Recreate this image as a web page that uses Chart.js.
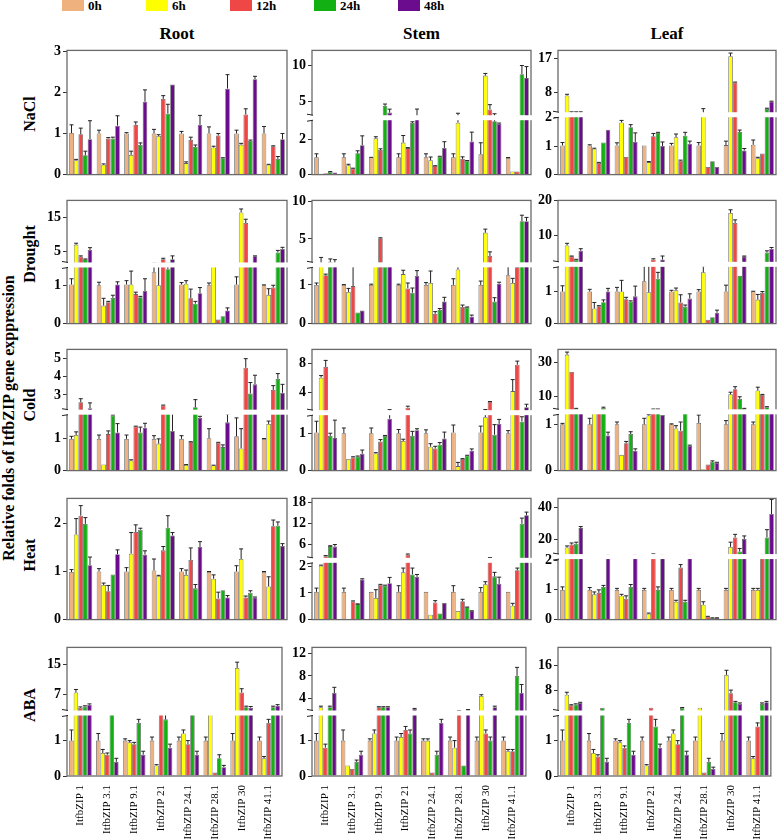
<!DOCTYPE html>
<html>
<head>
<meta charset="utf-8">
<script src="https://cdn.jsdelivr.net/npm/chart.js@4.4.1/dist/chart.umd.min.js"></script>
<style>
  body { margin: 0; background: #fff; }
  #wrap { position: relative; width: 778px; height: 840px; overflow: hidden;
          font-family: "Liberation Serif", "Times New Roman", serif; font-weight: bold; color: #000; }
  #wrap canvas { position: absolute; }
  .txt { position: absolute; white-space: nowrap; }
  .rot { position: absolute; white-space: nowrap; transform: translate(-50%, -50%) rotate(-90deg); }
</style>
</head>
<body>
<div id="wrap"></div>
<script>
'use strict';

// CATEGORIES AND SERIES
const genes = ['ItfbZIP 1', 'ItfbZIP 3.1', 'ItfbZIP 9.1', 'ItfbZIP 21', 'ItfbZIP 24.1', 'ItfbZIP 28.1', 'ItfbZIP 30', 'ItfbZIP 41.1'];
const times = ['0h', '6h', '12h', '24h', '48h'];
const timeColors = ['#efb27e', '#ffff00', '#ef4646', '#12b012', '#6b0b8d'];
const tissues = ['Root', 'Stem', 'Leaf'];
const stresses = ['NaCl', 'Drought', 'Cold', 'Heat', 'ABA'];

// VALUES: one row per gene, [0h, 6h, 12h, 24h, 48h]
const naclRoot = [[1.01, 0.35, 0.98, 0.47, 0.86], [1.0, 0.24, 0.88, 0.88, 1.19], [1.0, 0.48, 1.21, 0.72, 1.77], [1.0, 0.94, 1.84, 1.48, 2.19],
  [1.0, 0.28, 0.84, 0.67, 1.21], [1.0, 0.66, 0.95, 0.4, 2.09], [1.0, 0.73, 1.46, 0.82, 2.32], [1.0, 0.24, 0.69, 0.38, 0.86]];
const naclRootErr = [[0.2, 0.02, 0.15, 0.1, 0.45], [0.08, 0.02, 0.02, 0.03, 0.24], [0.02, 0.09, 0.07, 0.05, 0.29], [0.1, 0.03, 0.08, 0.23, 0],
  [0.05, 0.03, 0.07, 0.05, 0.23], [0.16, 0.03, 0.05, 0.01, 0.34], [0.08, 0.03, 0.14, 0.02, 0.07], [0.17, 0.01, 0.01, 0.06, 0.14]];

const naclStem = [[0.97, 0.03, 0.07, 0.16, 0.12], [0.97, 0.53, 0.34, 1.2, 1.65], [0.96, 2.04, 1.38, 4.39, 3.46], [0.97, 1.8, 1.49, 2.9, 3.11],
  [0.97, 0.81, 0.48, 1.01, 1.5], [0.97, 2.92, 0.88, 0.78, 1.86], [1.15, 8.6, 3.9, 3.0, 2.85], [0.94, 0.18, 0.18, 8.8, 8.25]];
const naclStemErr = [[0.2, 0, 0, 0.01, 0], [0.2, 0.05, 0.02, 0.14, 0.53], [0.01, 0.09, 0.07, 0.26, 0.48], [0.2, 0.4, 0.03, 0.07, 0.84],
  [0.2, 0.18, 0.02, 0.02, 0.35], [0.2, 0.45, 0.12, 0.01, 0.53], [0.64, 0.3, 0.66, 0.3, 0.05], [0.02, 0, 0, 1.2, 1.6]];

const naclLeaf = [[1.03, 7.2, 2.4, 2.4, 2.4], [1.03, 0.91, 0.41, 1.13, 1.58], [1.03, 1.84, 0.62, 1.67, 1.15], [1.03, 0.44, 1.35, 1.47, 1.01],
  [1.03, 1.32, 0.49, 1.37, 1.09], [1.03, 2.3, 0.27, 0.47, 0.27], [1.04, 17.5, 10.6, 1.5, 0.85], [1.05, 0.58, 0.74, 3.66, 5.6]];
const naclLeafErr = [[0.1, 0.3, 0.5, 0.5, 0.5], [0.02, 0.02, 0.02, 0, 0], [0.09, 0.07, 0, 0.09, 0.32], [0, 0.02, 0.1, 0.02, 0.14],
  [0.07, 0.11, 0.02, 0.12, 0.09], [0.1, 1.45, 0, 0, 0], [0.14, 0.8, 0.1, 0.07, 0.07], [0.17, 0.03, 0, 0.2, 0.1]];

const droughtRoot = [[1.02, 7.1, 3.6, 2.8, 5.5], [1.0, 0.47, 0.56, 0.67, 1.02], [1.02, 1.02, 0.77, 0.69, 0.85], [1.34, 1.0, 2.8, 1.42, 2.8],
  [1.02, 1.04, 0.66, 0.52, 0.79], [1.0, 1.5, 0.11, 0.19, 0.34], [1.02, 16.5, 13.4, 1.5, 3.7], [1.0, 0.75, 0.94, 4.8, 5.9]];
const droughtRootErr = [[0.15, 0.4, 0.2, 0.1, 0.7], [0.08, 0.19, 0.02, 0.07, 0.07], [0.1, 0.35, 0.05, 0.02, 0.32], [0.3, 0.6, 0.3, 0.2, 1.0],
  [0.05, 0.08, 0.24, 0.06, 0.15], [0.06, 0, 0, 0, 0.07], [0.2, 1.0, 1.1, 0, 0.1], [0.01, 0.16, 0.06, 0.6, 0.4]];

const droughtStem = [[1.0, 1.6, 1.25, 1.9, 1.6], [1.0, 0.82, 0.97, 0.29, 0.34], [1.0, 1.6, 5.1, 1.48, 1.6], [1.0, 1.28, 0.91, 0.8, 1.23],
  [1.0, 1.05, 0.25, 0.35, 0.57], [1.0, 1.4, 0.43, 0.42, 0.18], [1.0, 5.85, 2.7, 0.57, 1.03], [1.25, 1.05, 1.46, 7.4, 7.4]];
const droughtStemErr = [[0.05, 0.9, 0.03, 0.4, 0.6], [0.01, 0.09, 0.53, 0, 0], [0.02, 0, 0.05, 0.02, 0], [0.02, 0.1, 0.14, 0.12, 0.14],
  [0.06, 0.31, 0.06, 0.04, 0.11], [0.16, 0.1, 0.05, 0.01, 0.04], [0.1, 0.47, 0.55, 0.1, 0.04], [0.41, 0.12, 0.01, 0.8, 0.5]];

const droughtLeaf = [[1.0, 7.05, 3.9, 2.95, 5.5], [1.0, 0.47, 0.54, 0.67, 1.0], [1.0, 1.0, 0.76, 0.69, 0.85], [1.32, 0.98, 3.0, 1.4, 3.0],
  [1.0, 1.04, 0.66, 0.53, 0.78], [1.0, 1.6, 0.12, 0.2, 0.34], [1.0, 16.4, 13.5, 1.49, 3.9], [1.0, 0.75, 0.96, 5.0, 6.1]];
const droughtLeafErr = [[0.18, 0.6, 0.1, 0.1, 0.6], [0.07, 0.19, 0.02, 0.07, 0.1], [0.13, 0.35, 0.06, 0.02, 0.32], [0.6, 0.98, 0.2, 0.2, 1.0],
  [0.04, 0.07, 0.24, 0.05, 0.15], [0.06, 0.2, 0, 0, 0.08], [0.2, 0.9, 0.9, 0, 0.1], [0.01, 0.16, 0.04, 0.5, 0.35]];

const coldRoot = [[1.0, 1.12, 2.6, 2.1, 2.27], [1.0, 0.19, 1.15, 1.74, 1.2], [1.0, 0.32, 1.39, 1.2, 1.35], [1.0, 0.85, 2.42, 2.1, 1.25],
  [1.0, 0.18, 0.9, 2.32, 1.66], [1.02, 0.16, 0.88, 0.74, 1.52], [1.08, 0.7, 4.49, 3.08, 3.58], [1.0, 1.47, 3.27, 3.88, 3.12]];
const coldRootErr = [[0.08, 0.1, 0.19, 0, 0.29], [0.12, 0, 0.1, 0.02, 0.28], [0.12, 0.02, 0.01, 0.17, 0.14], [0.1, 0.15, 0.02, 0, 0.55],
  [0.1, 0.01, 0.01, 0.42, 0.05], [0.3, 0.01, 0.01, 0.07, 0.26], [0.58, 0.62, 0.5, 0.6, 0.5], [0.01, 0.09, 0.24, 0.29, 0.46]];

const coldStem = [[1.02, 6.06, 7.57, 0.93, 0.87], [1.0, 0.31, 0.35, 0.38, 0.45], [1.0, 0.46, 0.78, 0.93, 1.39], [1.0, 0.79, 1.9, 0.93, 1.08],
  [1.0, 0.64, 0.59, 0.69, 0.86], [1.02, 0.12, 0.31, 0.4, 0.53], [1.02, 1.43, 2.7, 0.96, 1.25], [1.0, 4.2, 7.87, 1.31, 1.97]];
const coldStemErr = [[0.3, 0.3, 0.9, 0.07, 0.48], [0.14, 0, 0.02, 0.01, 0.1], [0.14, 0.02, 0.05, 0.01, 0.23], [0.1, 0.05, 0.2, 0.12, 0.04],
  [0.09, 0.08, 0.06, 0.06, 0.17], [0.2, 0.1, 0.01, 0.01, 0.05], [0.17, 0.2, 0.05, 0.27, 0.12], [0.07, 1.6, 0.5, 0.13, 0.4]];

const coldLeaf = [[1.0, 34.9, 24.6, 2.7, 2.1], [1.0, 1.24, 1.24, 3.1, 0.76], [1.0, 0.34, 0.59, 0.79, 0.43], [1.0, 1.19, 2.3, 2.3, 1.2],
  [1.0, 0.91, 0.86, 1.5, 0.53], [1.03, 0.03, 0.13, 0.19, 0.17], [1.0, 11.3, 14.3, 8.5, 2.7], [1.0, 13.5, 10.9, 3.6, 2.1]];
const coldLeafErr = [[0.02, 1.5, 0, 0.2, 0], [0.13, 0, 0, 0.5, 0.07], [0.05, 0, 0.04, 0.05, 0.04], [0.13, 0.02, 0.2, 0.2, 0],
  [0.01, 0.06, 0.19, 0, 0.02], [0.17, 0, 0, 0.02, 0.01], [0.08, 1.2, 1.5, 1.3, 0.2], [0.05, 2.0, 0.3, 0.3, 0]];

const heatRoot = [[0.99, 1.77, 2.16, 1.99, 1.13], [1.0, 0.72, 0.59, 0.94, 1.36], [1.0, 1.37, 1.82, 1.87, 1.35], [1.02, 0.91, 1.44, 1.91, 1.75],
  [1.0, 0.93, 1.24, 0.65, 1.51], [0.99, 0.85, 0.44, 0.61, 0.46], [1.0, 1.26, 0.46, 0.56, 0.46], [0.99, 0.69, 1.94, 1.95, 1.53]];
const heatRootErr = [[0.05, 0.33, 0.21, 0.13, 0.17], [0.06, 0.04, 0.12, 0, 0.09], [0.08, 0.44, 0.15, 0.03, 0.08], [0.24, 0.01, 0.08, 0.25, 0.06],
  [0.06, 0.1, 0.25, 0.08, 0.11], [0.01, 0.08, 0.13, 0, 0.04], [0.12, 0.21, 0.03, 0.04, 0.01], [0.01, 0.2, 0.13, 0.08, 0.05]];

const heatStem = [[1.04, 2.02, 2.75, 5.65, 5.5], [1.04, 0.01, 0.68, 0.58, 1.5], [1.04, 0.81, 1.31, 1.28, 1.36], [1.04, 1.77, 3.2, 1.69, 1.6],
  [1.04, 0.18, 0.64, 0.23, 0.62], [1.04, 0.32, 0.69, 0.46, 0.32], [1.04, 1.32, 2.3, 1.62, 1.34], [1.04, 0.52, 1.85, 12.0, 14.4]];
const heatStemErr = [[0.14, 0.02, 0.2, 0.1, 0.6], [0.14, 0, 0.02, 0.01, 0.03], [0, 0.31, 0.01, 0.01, 0.22], [0.23, 0.16, 0.2, 0.24, 0.09],
  [0, 0, 0.07, 0, 0], [0.23, 0, 0.07, 0.01, 0.01], [0.16, 0.1, 0.1, 0.15, 0.25], [0, 0.09, 0.08, 1.6, 0.9]];

const heatLeaf = [[1.0, 14.6, 16.5, 17, 27], [1.0, 0.85, 0.9, 1.1, 9.5], [1.0, 0.8, 0.7, 1.1, 9.5], [1.0, 0.2, 9.5, 1.0, 9.5],
  [1.0, 0.6, 1.75, 0.6, 9.5], [1.0, 0.5, 0.1, 0.05, 0.05], [1.0, 15, 21, 12, 20], [1.0, 1.0, 9.5, 21, 36]];
const heatLeafErr = [[0.1, 1, 1, 1, 1], [0.08, 0.08, 0.1, 0.05, 0.5], [0.05, 0.05, 0.1, 0.08, 0.5], [0.05, 0.02, 1.0, 0.1, 0.5],
  [0.05, 0.05, 0.1, 0.05, 0.5], [0.05, 0.1, 0.01, 0.01, 0.01], [0.05, 3, 2, 2, 2], [0.05, 0.05, 0.5, 5, 10]];

const abaRoot = [[1.0, 7.5, 3.5, 3.8, 4.3], [1.0, 0.65, 0.6, 2.2, 0.4], [1.0, 0.95, 0.9, 1.5, 0.6], [1.0, 0.3, 2.2, 1.6, 0.8],
  [1.0, 1.2, 0.9, 2.2, 0.6], [1.0, 2.2, 0.1, 0.5, 0.25], [1.0, 14, 7.5, 3.6, 3.5], [1.0, 0.5, 1.5, 3.6, 4]];
const abaRootErr = [[0.3, 0.8, 0.2, 0.2, 0.2], [0.2, 0.1, 0.05, 0, 0.1], [0.05, 0.05, 0.05, 0.1, 0.1], [0.1, 0.02, 0, 0.2, 0.1],
  [0.1, 0.1, 0.1, 0.1, 0.1], [0.1, 0, 0, 0.1, 0.05], [0.2, 1.5, 1, 0.3, 0.3], [0.1, 0.05, 0.1, 0.3, 0.3]];

const abaStem = [[1.0, 2.5, 0.8, 2.5, 5], [1.0, 0.3, 0.2, 0.4, 0.6], [1.0, 1.2, 2.5, 2.5, 2.5], [1.0, 1.1, 1.3, 1.2, 2.2],
  [1.0, 1.0, 0.1, 0.6, 1.5], [1.0, 0.8, 1.8, 0.3, 2.0], [1.0, 4.5, 1.2, 1.0, 2.5], [1.0, 0.7, 0.7, 8, 5]];
const abaStemErr = [[0.2, 0.2, 0.1, 0.2, 1], [0.3, 0, 0, 0.05, 0.1], [0.05, 0.1, 0.1, 0.1, 0.1], [0.1, 0.1, 0.1, 0.1, 0.1],
  [0.05, 0.05, 0, 0.1, 0.1], [0.1, 0.2, 0.1, 0, 0.1], [0.1, 0.2, 0.1, 0.1, 0.2], [0.1, 0.05, 0.05, 1.5, 1.5]];

const abaLeaf = [[1.0, 6.5, 3.0, 3.3, 3.8], [1.0, 0.65, 0.55, 2.2, 0.4], [1.0, 0.95, 0.8, 1.5, 0.6], [1.0, 0.3, 2.2, 1.4, 0.8],
  [1.0, 1.2, 0.9, 2.2, 0.6], [1.0, 2.2, 0.1, 0.4, 0.2], [1.0, 13, 7, 4.0, 3.5], [1.0, 0.5, 1.4, 3.5, 4.0]];
const abaLeafErr = [[0.3, 0.8, 0.2, 0.2, 0.2], [0.2, 0.1, 0.05, 0, 0.1], [0.05, 0.05, 0.05, 0.1, 0.1], [0.1, 0.02, 0, 0.2, 0.1],
  [0.1, 0.1, 0.1, 0.1, 0.1], [0.1, 0, 0, 0.1, 0.05], [0.2, 1.5, 1, 0.3, 0.3], [0.1, 0.05, 0.1, 0.3, 0.3]];

// TICK LABELS per panel
const naclRootTicks = [0, 1, 2, 3];
const naclStemTicks = [0, 2, 5, 10];
const naclLeafTicks = [0, 1, 2, 8, 17];
const droughtRootTicks = [0, 1, 5, 15];
const droughtStemTicks = [0, 1, 5, 10];
const droughtLeafTicks = [0, 1, 10, 20];
const coldRootTicks = [0, 1, 3, 4, 5];
const coldStemTicks = [0, 1, 4, 8];
const coldLeafTicks = [0, 1, 10, 30];
const heatRootTicks = [0, 1, 2];
const heatStemTicks = [0, 1, 2, 6, 12, 18];
const heatLeafTicks = [0, 1, 2, 20, 40];
const abaRootTicks = [0, 1, 7, 15];
const abaStemTicks = [0, 1, 4, 8, 12];
const abaLeafTicks = [0, 1, 8, 16];

// LAYOUT
const colLeft = [67, 312, 558];
const colWidth = [220, 219, 218];
const rowTop = [48, 198, 347, 496, 645];
const rowBottom = [182, 331, 478, 627, 776];
const AXIS_W = 30;
const PAD_T = 8;
const PAD_R = 4;
const PAD_B = 3;
const XLAB_H = 64;
const serif = '"Liberation Serif", "Times New Roman", serif';

// broken axes: lower part 0..low fills `frac` of the height, upper part high..max the rest
const panels = [
  { row: 0, col: 0, vals: naclRoot, errs: naclRootErr, ticks: naclRootTicks, axis: { max: 3.02 } },
  { row: 0, col: 1, vals: naclStem, errs: naclStemErr, ticks: naclStemTicks, axis: { max: 12.1, low: 3.2, high: 2.75, frac: 0.458 } },
  { row: 0, col: 2, vals: naclLeaf, errs: naclLeafErr, ticks: naclLeafTicks, axis: { max: 19, low: 2.11, high: 2.15, frac: 0.482 } },
  { row: 1, col: 0, vals: droughtRoot, errs: droughtRootErr, ticks: droughtRootTicks, axis: { max: 20, low: 1.53, high: 1.15, frac: 0.476 } },
  { row: 1, col: 1, vals: droughtStem, errs: droughtStemErr, ticks: droughtStemTicks, axis: { max: 10.2, low: 1.52, high: 1.5, frac: 0.477 } },
  { row: 1, col: 2, vals: droughtLeaf, errs: droughtLeafErr, ticks: droughtLeafTicks, axis: { max: 20, low: 1.85, high: 1.6, frac: 0.481 } },
  { row: 2, col: 0, vals: coldRoot, errs: coldRootErr, ticks: coldRootTicks, axis: { max: 5.5, low: 1.84, high: 2.05, frac: 0.482 } },
  { row: 2, col: 1, vals: coldStem, errs: coldStemErr, ticks: coldStemTicks, axis: { max: 10, low: 1.55, high: 1.2, frac: 0.478 } },
  { row: 2, col: 2, vals: coldLeaf, errs: coldLeafErr, ticks: coldLeafTicks, axis: { max: 38, low: 1.27, high: 0.84, frac: 0.485 } },
  { row: 3, col: 0, vals: heatRoot, errs: heatRootErr, ticks: heatRootTicks, axis: { max: 2.52 } },
  { row: 3, col: 1, vals: heatStem, errs: heatStemErr, ticks: heatStemTicks, axis: { max: 19.2, low: 2.22, high: 1.6, frac: 0.489 } },
  { row: 3, col: 2, vals: heatLeaf, errs: heatLeafErr, ticks: heatLeafTicks, axis: { max: 46, low: 2.12, high: 8.8, frac: 0.52 } },
  { row: 4, col: 0, vals: abaRoot, errs: abaRootErr, ticks: abaRootTicks, axis: { max: 19.4, low: 1.78, high: 2.1, frac: 0.49 } },
  { row: 4, col: 1, vals: abaStem, errs: abaStemErr, ticks: abaStemTicks, axis: { max: 13, low: 1.78, high: 1.5, frac: 0.49 } },
  { row: 4, col: 2, vals: abaLeaf, errs: abaLeafErr, ticks: abaLeafTicks, axis: { max: 22, low: 1.78, high: 0.5, frac: 0.49 } }
];

//  BROKEN LINEAR SCALE
class BrokenScale extends Chart.LinearScale {
  buildTicks() {
    return this.options.tickList.map(v => ({ value: v }));
  }
  breakPixel() {
    const b = this.options.brk;
    return this.bottom - b.frac * (this.bottom - this.top);
  }
  getPixelForValue(v) {
    const b = this.options.brk;
    if (!b.low) {
      return this.bottom - (v - this.min) / (this.max - this.min) * (this.bottom - this.top);
    }
    const yb = this.breakPixel();
    if (v <= b.low) return this.bottom - v / b.low * (this.bottom - yb);
    if (v >= b.high) return yb - (v - b.high) / (this.max - b.high) * (yb - this.top);
    return yb;
  }
  getValueForPixel(p) {
    const b = this.options.brk;
    if (!b.low) return this.min + (this.bottom - p) / (this.bottom - this.top) * (this.max - this.min);
    const yb = this.breakPixel();
    if (p >= yb) return (this.bottom - p) / (this.bottom - yb) * b.low;
    return b.high + (yb - p) / (yb - this.top) * (this.max - b.high);
  }
}
BrokenScale.id = 'broken';
BrokenScale.defaults = Chart.LinearScale.defaults;
Chart.register(BrokenScale);

//  PLUGINS
const errorBars = {
  id: 'errorBars',
  afterDatasetsDraw(chart) {
    const ctx = chart.ctx;
    const ys = chart.scales.y;
    ctx.save();
    ctx.strokeStyle = '#222';
    ctx.lineWidth = 1;
    chart.data.datasets.forEach((ds, i) => {
      chart.getDatasetMeta(i).data.forEach((bar, j) => {
        const e = ds.err[j];
        if (!e) return;
        const y1 = Math.max(ys.getPixelForValue(ds.data[j] + e), chart.chartArea.top + 1);
        ctx.beginPath();
        ctx.moveTo(bar.x, bar.y);
        ctx.lineTo(bar.x, y1);
        ctx.moveTo(bar.x - 2, y1);
        ctx.lineTo(bar.x + 2, y1);
        ctx.stroke();
      });
    });
    ctx.restore();
  }
};

const frameAndBreak = {
  id: 'frameAndBreak',
  afterDraw(chart) {
    const ctx = chart.ctx;
    const a = chart.chartArea;
    const ys = chart.scales.y;
    const b = ys.options.brk;
    ctx.save();
    ctx.strokeStyle = '#6a6a6a';
    ctx.lineWidth = 1.3;
    ctx.strokeRect(a.left, a.top, a.right - a.left, a.bottom - a.top);
    if (b.low) {
      const yb = ys.breakPixel();
      ctx.fillStyle = '#fff';
      ctx.fillRect(a.left - 1, yb - 2.5, a.right - a.left + 3, 5);
      ctx.strokeStyle = '#222';
      ctx.lineWidth = 1;
      ctx.beginPath();
      ctx.moveTo(a.left - 5, yb - 3.5);
      ctx.lineTo(a.left + 1, yb - 2.5);
      ctx.moveTo(a.left - 5, yb + 3.5);
      ctx.lineTo(a.left + 1, yb + 2.5);
      ctx.stroke();
    }
    ctx.restore();
  }
};

//  TEXT HELPERS
const wrap = document.getElementById('wrap');

function addText(text, x, y, size, cls) {
  let el = document.createElement('div');
  el.className = cls || 'txt';
  el.textContent = text;
  el.style.left = x + 'px';
  el.style.top = y + 'px';
  el.style.fontSize = size + 'px';
  wrap.appendChild(el);
  return el;
}

// legend
times.forEach((t, k) => {
  let sw = document.createElement('div');
  sw.style.cssText = 'position:absolute;width:22px;height:11px;top:0px;left:' + (62 + k * 84) + 'px;background:' + timeColors[k];
  wrap.appendChild(sw);
  addText(t, 88 + k * 84, -2, 13);
});

// column titles
tissues.forEach((t, c) => {
  let el = addText(t, colLeft[c], 24, 17);
  el.style.width = colWidth[c] + 'px';
  el.style.textAlign = 'center';
});

// row labels
const rowLabelY = [114, 254, 405, 555, 705];
stresses.forEach((s, r) => addText(s, 30, rowLabelY[r], 16, 'rot'));
addText('Relative folds of ItfbZIP gene exppression', 9, 418, 16, 'rot');

//  CHARTS
function makePanel(p) {
  const last = p.row === 4;
  const cv = document.createElement('canvas');
  const h = rowBottom[p.row] - rowTop[p.row];
  cv.width = AXIS_W + colWidth[p.col] + PAD_R;
  cv.height = PAD_T + h + (last ? XLAB_H : PAD_B);
  cv.style.left = (colLeft[p.col] - AXIS_W) + 'px';
  cv.style.top = (rowTop[p.row] - PAD_T) + 'px';
  wrap.appendChild(cv);

  const datasets = times.map((t, k) => ({
    label: t,
    data: p.vals.map(g => g[k]),
    err: p.errs.map(g => g[k]),
    backgroundColor: timeColors[k],
    borderColor: 'rgba(0,0,0,0.6)',
    borderWidth: 0.8,
    categoryPercentage: 0.84,
    barPercentage: 1.0
  }));

  new Chart(cv, {
    type: 'bar',
    data: { labels: genes, datasets: datasets },
    options: {
      responsive: false,
      animation: false,
      devicePixelRatio: 1,
      layout: { padding: { top: PAD_T, right: PAD_R, bottom: last ? 0 : PAD_B, left: 0 } },
      plugins: { legend: { display: false }, tooltip: { enabled: false } },
      scales: {
        x: {
          grid: { display: false, drawTicks: false },
          border: { display: false },
          ticks: { display: last, autoSkip: false, minRotation: 90, maxRotation: 90, padding: 9, color: '#000',
                   font: { family: serif, size: 11 } },
          afterFit: s => { s.height = last ? XLAB_H : 0; }
        },
        y: {
          type: 'broken',
          min: 0,
          max: p.axis.max,
          brk: p.axis,
          tickList: p.ticks,
          grid: { drawOnChartArea: false, drawTicks: true, tickLength: 4, color: '#333' },
          border: { display: false },
          ticks: { color: '#000', padding: 2, font: { family: serif, size: 14, weight: 'bold' }, callback: v => String(v) },
          afterFit: s => { s.width = AXIS_W; }
        }
      }
    },
    plugins: [errorBars, frameAndBreak]
  });
}

panels.forEach(makePanel);
</script>
</body>
</html>
